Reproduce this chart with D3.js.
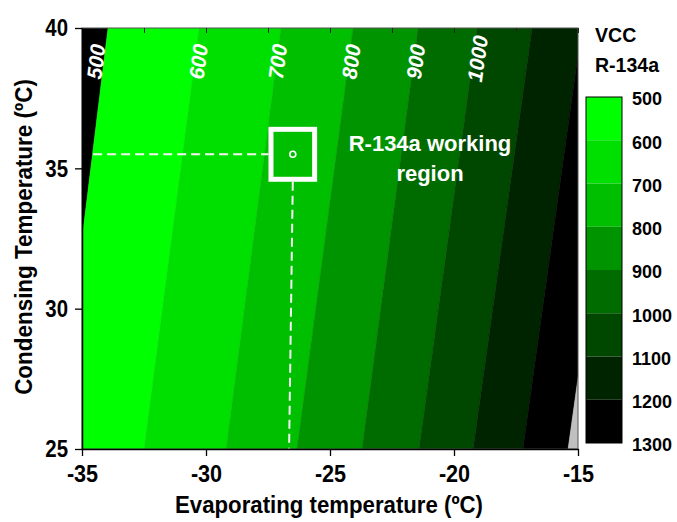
<!DOCTYPE html>
<html><head><meta charset="utf-8">
<script src="https://cdn.jsdelivr.net/npm/d3@7/dist/d3.min.js"></script>
<style>
body{margin:0;background:#fff}
text{font-family:"Liberation Sans",Arial,sans-serif;font-weight:bold}
</style>
</head><body>
<svg id="c" width="677" height="522"></svg>
<script>
// ---- data ----
const levels    = [500, 600, 700, 800, 900, 1000, 1100, 1200, 1300];
// evaporating temperature where each VCC contour crosses Tc = 25 and Tc = 40 °C
const teAtTc25  = [-36.04, -32.50, -29.19, -26.33, -23.71, -21.41, -19.23, -17.22, -15.40];
const teAtTc40  = [-33.95, -30.28, -26.98, -24.07, -21.45, -19.07, -16.85, -14.85, -13.03];
const labeledLevels = [500, 600, 700, 800, 900, 1000];
const xTicks = [-35, -30, -25, -20, -15];
const xMinor = [-32.5, -27.5, -22.5, -17.5];
const yTicks = [25, 30, 35, 40];
const yMinor = [27.5, 32.5, 37.5];
const workPoint = {te: -26.5, tc: 35.5};
const annotation = ["R-134a working", "region"];
const legendTitle = ["VCC", "R-134a"];
const xTitle = "Evaporating temperature (ºC)";
const yTitle = "Condensing Temperature (ºC)";

// colours: [below 500, 500-600, ..., 1200-1300, above 1300]
const bandColors = ["#000000", "#00ff00", "#00e000", "#00be00", "#009400", "#006c00", "#004800", "#002400", "#000000", "#c0c0c0"];

const svg = d3.select("#c");
const L = 82, R = 578, T = 28, B = 449;
const x = d3.scaleLinear([-35, -15], [L, R]);
const y = d3.scaleLinear([25, 40], [B, T]);

function squeeze(sel, f) {
  sel.each(function () {
    const len = this.getComputedTextLength();
    d3.select(this).attr("textLength", len * f).attr("lengthAdjust", "spacingAndGlyphs");
  });
}

svg.append("clipPath").attr("id", "clip").append("rect")
  .attr("x", L).attr("y", T).attr("width", R - L).attr("height", B - T);

// bands
const line = d3.line().x(d => x(d[0])).y(d => y(d[1]));
const bands = [];
for (let i = -1; i < levels.length; i++) {
  const l25 = i < 0 ? -60 : teAtTc25[i], l40 = i < 0 ? -60 : teAtTc40[i];
  const r25 = i + 1 >= levels.length ? 10 : teAtTc25[i + 1], r40 = i + 1 >= levels.length ? 10 : teAtTc40[i + 1];
  bands.push({pts: [[l25, 25], [l40, 40], [r40, 40], [r25, 25]], color: bandColors[i + 1]});
}
const g = svg.append("g").attr("clip-path", "url(#clip)");
g.selectAll("path.band").data(bands).join("path").attr("class", "band")
  .attr("d", d => line(d.pts) + "Z").attr("fill", d => d.color)
  .attr("stroke", d => d.color).attr("stroke-width", 0.5);

// contour labels
const labelTc = 38.8;
const labelDx = {500: -8, 600: 3.5, 700: 1, 800: 2.5, 900: 2, 1000: 5};
labeledLevels.forEach(lv => {
  const i = levels.indexOf(lv);
  const te = teAtTc25[i] + (teAtTc40[i] - teAtTc25[i]) * (labelTc - 25) / 15;
  const dx = x(teAtTc40[i]) - x(teAtTc25[i]), dy = y(40) - y(25);
  const ang = Math.atan2(dy, dx) * 180 / Math.PI;
  const px = x(te) + labelDx[lv], py = y(labelTc) + (lv === 1000 ? -3 : 0);
  g.append("text").attr("transform", `translate(${px},${py}) rotate(${ang})`)
    .attr("text-anchor", "middle").attr("dy", "0.36em")
    .attr("font-size", 21).attr("font-style", "italic").attr("fill", "#fff").text(lv);
});

// working region marker
const hw = 0.88, hh = 0.89;
const sqL = x(workPoint.te - hw), sqR = x(workPoint.te + hw), sqT = y(workPoint.tc + hh), sqB = y(workPoint.tc - hh);
g.append("line").attr("x1", x(-34.55)).attr("x2", sqL - 2.5)
  .attr("y1", y(workPoint.tc)).attr("y2", y(workPoint.tc))
  .attr("stroke", "#f4f4f4").attr("stroke-width", 2).attr("stroke-dasharray", "9,5");
g.append("line").attr("x1", x(workPoint.te)).attr("x2", x(workPoint.te - 0.15))
  .attr("y1", sqB + 2.5).attr("y2", y(25))
  .attr("stroke", "#f4f4f4").attr("stroke-width", 2).attr("stroke-dasharray", "9,5");
g.append("rect").attr("x", sqL).attr("y", sqT).attr("width", sqR - sqL).attr("height", sqB - sqT)
  .attr("fill", "none").attr("stroke", "#fff").attr("stroke-width", 5);
g.append("circle").attr("cx", x(workPoint.te)).attr("cy", y(workPoint.tc)).attr("r", 3)
  .attr("fill", "none").attr("stroke", "#fff").attr("stroke-width", 1.6);

const ann = svg.append("text").attr("x", 430).attr("y", 151).attr("text-anchor", "middle")
  .attr("font-size", 22).attr("fill", "#fff");
ann.selectAll("tspan").data(annotation).join("tspan")
  .attr("x", 430).attr("dy", (d, i) => i ? 30 : 0).text(d => d);

// frame
svg.append("rect").attr("x", L).attr("y", T).attr("width", R - L).attr("height", B - T)
  .attr("fill", "none").attr("stroke", "#555").attr("stroke-width", 1);

// top inward ticks
svg.append("g").attr("transform", `translate(0,${T})`)
  .call(d3.axisTop(x).tickValues(xTicks.concat(xMinor)).tickSize(-5).tickSizeOuter(0).tickFormat(""))
  .call(a => a.select(".domain").remove())
  .call(a => a.selectAll("line").attr("stroke", "#222").attr("stroke-width", 1));

const fmt = d => String(d);

// bottom axis
const xa = svg.append("g").attr("transform", `translate(0,${B})`);
xa.call(d3.axisBottom(x).tickValues(xMinor).tickSize(4).tickSizeOuter(0).tickFormat(""));
xa.call(d3.axisBottom(x).tickValues(xTicks).tickSize(7).tickSizeOuter(0).tickPadding(9).tickFormat(fmt));
xa.selectAll("line").attr("stroke", "#000").attr("stroke-width", 1.3);
xa.selectAll(".domain").attr("stroke", "#000").attr("stroke-width", 1.5);
xa.selectAll("text").attr("font-size", 24).attr("fill", "#000").attr("font-family", null).call(squeeze, 0.9);

// left axis
const ya = svg.append("g").attr("transform", `translate(${L},0)`);
ya.call(d3.axisLeft(y).tickValues(yMinor).tickSize(4).tickSizeOuter(0).tickFormat(""));
ya.call(d3.axisLeft(y).tickValues(yTicks).tickSize(7).tickSizeOuter(0).tickPadding(7).tickFormat(fmt));
ya.selectAll("line").attr("stroke", "#000").attr("stroke-width", 1.3);
ya.selectAll(".domain").attr("stroke", "#000").attr("stroke-width", 1.5);
ya.selectAll("text").attr("font-size", 24).attr("fill", "#000").attr("font-family", null).call(squeeze, 0.85);

// axis titles
svg.append("text").attr("x", 329).attr("y", 513).attr("text-anchor", "middle")
  .attr("font-size", 24).attr("fill", "#000").text(xTitle).call(squeeze, 0.925);
svg.append("text").attr("transform", "translate(32,237) rotate(-90)").attr("text-anchor", "middle")
  .attr("font-size", 24).attr("fill", "#000").text(yTitle).call(squeeze, 0.935);

// colour bar
const cb = d3.scaleLinear([500, 1300], [97, 443]);
const cbx = 586, cbw = 36;
const cbData = levels.slice(0, -1).map((v, i) => ({lo: v, hi: levels[i + 1], color: bandColors[i + 1]}));
svg.selectAll("rect.cb").data(cbData).join("rect").attr("class", "cb")
  .attr("x", cbx).attr("width", cbw).attr("y", d => cb(d.lo)).attr("height", d => cb(d.hi) - cb(d.lo))
  .attr("fill", d => d.color);
svg.append("rect").attr("x", cbx).attr("y", cb(500)).attr("width", cbw).attr("height", cb(1300) - cb(500))
  .attr("fill", "none").attr("stroke", "#000").attr("stroke-width", 1);
svg.selectAll("text.cbl").data(levels).join("text").attr("class", "cbl")
  .attr("x", 632).attr("y", d => cb(d) + 2).attr("dy", "0.36em")
  .attr("font-size", 18).attr("fill", "#000").text(d => d);
svg.selectAll("text.lt").data(legendTitle).join("text").attr("class", "lt")
  .attr("x", 595).attr("y", (d, i) => 42 + i * 30)
  .attr("font-size", 21).attr("fill", "#000").text(d => d).call(squeeze, 0.93);
</script>
</body></html>
